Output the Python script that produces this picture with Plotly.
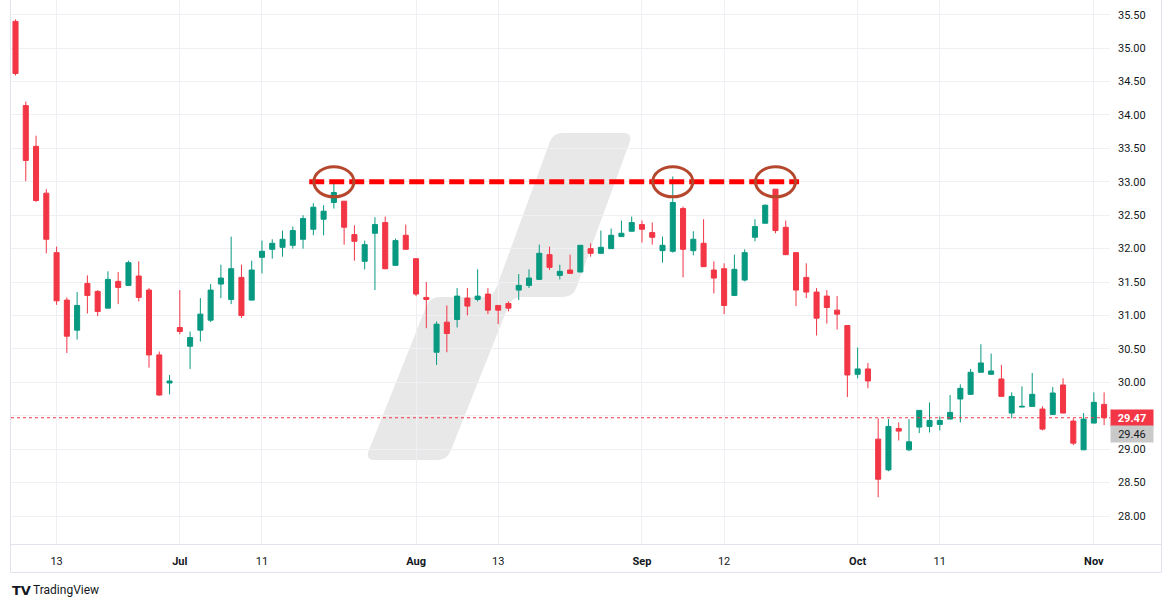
import pandas as pd
import plotly.graph_objects as go

# ---------------- data ----------------
dates = pd.bdate_range("2024-06-07", "2024-11-04").strftime("%Y-%m-%d").tolist()

opens = [35.40, 34.14, 33.53, 32.83, 31.94, 31.23, 30.78, 31.48, 31.36, 31.11,
         31.51, 31.45, 31.59, 31.38, 30.41, 29.99, 30.82, 30.54, 30.78, 30.93,
         31.47, 31.24, 31.57, 31.23, 31.87, 31.99, 32.02, 32.05, 32.14, 32.29,
         32.44, 32.69, 32.71, 32.21, 31.81, 32.23, 32.39, 31.75, 32.20, 31.85,
         31.27, 30.45, 30.90, 30.94, 31.26, 31.24, 31.32, 31.15, 31.18, 31.38,
         31.45, 31.54, 31.91, 31.60, 31.68, 31.65, 32.00, 31.93, 32.00, 32.18,
         32.26, 32.36, 32.24, 31.97, 31.96, 32.60, 31.97, 32.08, 31.68, 31.70,
         31.30, 31.53, 32.17, 32.38, 32.89, 32.32, 31.94, 31.57, 31.35, 31.29,
         31.08, 30.85, 30.12, 30.20, 29.15, 28.69, 29.31, 28.99, 29.33, 29.34,
         29.37, 29.45, 29.75, 29.82, 30.15, 30.12, 30.05, 29.54, 29.63, 29.64,
         29.60, 29.52, 29.96, 29.42, 28.99, 29.39, 29.67]
highs = [35.43, 34.20, 33.69, 32.89, 32.03, 31.27, 31.35, 31.60, 31.38, 31.66,
         31.65, 31.82, 31.81, 31.41, 30.46, 30.11, 31.38, 30.76, 31.26, 31.47,
         31.76, 32.18, 31.76, 31.82, 32.12, 32.14, 32.27, 32.33, 32.50, 32.68,
         32.65, 32.98, 32.71, 32.35, 32.12, 32.47, 32.48, 32.15, 32.36, 31.85,
         31.50, 30.91, 31.15, 31.41, 31.41, 31.69, 31.41, 31.15, 31.21, 31.62,
         31.69, 32.06, 32.03, 31.76, 31.91, 32.05, 32.08, 32.27, 32.30, 32.42,
         32.48, 32.42, 32.39, 32.18, 33.08, 32.63, 32.26, 32.44, 31.81, 31.78,
         31.91, 31.99, 32.44, 32.66, 32.89, 32.42, 31.94, 31.78, 31.41, 31.38,
         31.29, 30.85, 30.52, 30.29, 29.46, 29.45, 29.40, 29.45, 29.58, 29.70,
         29.49, 29.81, 29.97, 30.20, 30.57, 30.43, 30.26, 29.85, 29.94, 30.14,
         29.64, 29.93, 30.06, 29.46, 29.54, 29.85, 29.85]
lows = [34.59, 33.01, 32.70, 31.93, 31.16, 30.44, 30.64, 31.03, 30.99, 31.11,
        31.17, 31.44, 31.21, 30.22, 29.80, 29.82, 30.72, 30.20, 30.61, 30.90,
        31.26, 31.17, 30.96, 31.23, 31.63, 31.85, 31.88, 32.00, 32.00, 32.20,
        32.20, 32.60, 32.06, 31.82, 31.69, 31.38, 31.69, 31.75, 31.99, 31.29,
        30.81, 30.26, 30.45, 30.82, 31.00, 31.21, 31.02, 30.87, 31.06, 31.23,
        31.41, 31.54, 31.68, 31.54, 31.63, 31.65, 31.88, 31.93, 32.00, 32.18,
        32.26, 32.09, 32.06, 31.79, 31.94, 31.57, 31.90, 31.73, 31.33, 31.02,
        31.29, 31.51, 32.11, 32.38, 32.23, 31.91, 31.14, 31.26, 30.70, 30.88,
        30.79, 29.78, 30.06, 29.91, 28.28, 28.67, 29.13, 28.97, 29.24, 29.25,
        29.28, 29.45, 29.40, 29.82, 30.15, 30.11, 29.79, 29.46, 29.63, 29.64,
        29.28, 29.52, 29.54, 29.06, 28.99, 29.39, 29.36]
closes = [34.62, 33.32, 32.72, 32.14, 31.22, 30.69, 31.15, 31.30, 31.06, 31.54,
          31.42, 31.79, 31.27, 30.41, 29.81, 30.02, 30.76, 30.67, 31.02, 31.38,
          31.56, 31.70, 31.00, 31.68, 31.96, 32.08, 32.14, 32.27, 32.45, 32.62,
          32.56, 32.84, 32.32, 32.11, 32.06, 32.36, 31.70, 32.12, 31.99, 31.32,
          31.24, 30.87, 30.73, 31.29, 31.14, 31.29, 31.08, 31.08, 31.11, 31.45,
          31.56, 31.93, 31.72, 31.66, 31.63, 32.05, 31.93, 32.02, 32.20, 32.23,
          32.39, 32.29, 32.17, 32.05, 32.69, 31.99, 32.14, 31.73, 31.56, 31.15,
          31.69, 31.94, 32.33, 32.65, 32.27, 31.91, 31.38, 31.35, 30.96, 31.12,
          31.02, 30.11, 30.20, 30.02, 28.55, 29.34, 29.27, 29.11, 29.58, 29.43,
          29.43, 29.55, 29.91, 30.15, 30.29, 30.17, 29.79, 29.79, 29.64, 29.82,
          29.30, 29.84, 29.54, 29.09, 29.45, 29.70, 29.47]

tick_dates = ["2024-06-13", "2024-07-01", "2024-07-11", "2024-08-01", "2024-08-13",
              "2024-09-02", "2024-09-12", "2024-10-01", "2024-10-11", "2024-11-01"]
tick_labels = ["13", "<b>Jul</b>", "11", "<b>Aug</b>", "13",
               "<b>Sep</b>", "12", "<b>Oct</b>", "11", "<b>Nov</b>"]

price_ticks = [28.0, 28.5, 29.0, 29.5, 30.0, 30.5, 31.0, 31.5, 32.0, 32.5,
               33.0, 33.5, 34.0, 34.5, 35.0, 35.5]

last_price = 29.47
second_price = 29.46
resistance = 33.0
touch_dates = ["2024-07-22", "2024-09-05", "2024-09-19"]

# ---------------- styling / layout constants ----------------
W, H = 1171, 608
ML, MR, MT, MB = 11, 61, 0, 64
PW = W - ML - MR
PH = H - MT - MB
GREEN = "#089981"
RED = "#F23645"
GRID = "#eef0f3"
BORDER = "#e0e3eb"
TXT = "#131722"
FONT = "Roboto, Liberation Sans, Arial, sans-serif"

assert len(dates) == len(opens) == len(highs) == len(lows) == len(closes)


def px2paper(px, py):
    return (px - ML) / PW, (MT + PH - py) / PH


def rounded_path(pts, r):
    n = len(pts)
    out = []
    for i in range(n):
        p0, p1, p2 = pts[i - 1], pts[i], pts[(i + 1) % n]
        d1 = ((p0[0] - p1[0]) ** 2 + (p0[1] - p1[1]) ** 2) ** 0.5
        d2 = ((p2[0] - p1[0]) ** 2 + (p2[1] - p1[1]) ** 2) ** 0.5
        rr = min(r, d1 / 2, d2 / 2)
        a = (p1[0] + (p0[0] - p1[0]) * rr / d1, p1[1] + (p0[1] - p1[1]) * rr / d1)
        b = (p1[0] + (p2[0] - p1[0]) * rr / d2, p1[1] + (p2[1] - p1[1]) * rr / d2)
        A, P, B = px2paper(*a), px2paper(*p1), px2paper(*b)
        out.append(("M" if i == 0 else "L") + f"{A[0]:.5f},{A[1]:.5f} "
                   f"Q{P[0]:.5f},{P[1]:.5f} {B[0]:.5f},{B[1]:.5f}")
    return " ".join(out) + " Z"


fig = go.Figure()
fig.add_trace(go.Candlestick(
    x=dates, open=opens, high=highs, low=lows, close=closes,
    increasing=dict(line=dict(color=GREEN, width=1), fillcolor=GREEN),
    decreasing=dict(line=dict(color=RED, width=1), fillcolor=RED),
    whiskerwidth=0, showlegend=False, hoverinfo="skip",
))

shapes = []
# watermark "/" glyph (decorative, pixel based)
wm = [(365, 460), (430, 297), (493, 297), (553, 133), (633, 133),
      (573, 297), (512, 297), (447, 460)]
shapes.append(dict(type="path", xref="paper", yref="paper", path=rounded_path(wm, 10),
                   fillcolor="#e8e8e8", line=dict(width=0), layer="below"))

# frame lines
def pline(x0, y0, x1, y1):
    a, b = px2paper(x0, y0), px2paper(x1, y1)
    return dict(type="line", xref="paper", yref="paper", x0=a[0], y0=a[1], x1=b[0], y1=b[1],
                line=dict(color=BORDER, width=1), layer="above")

shapes += [pline(10.5, 0, 10.5, 572.5), pline(1161.5, 0, 1161.5, 572.5),
           pline(10.5, 572.5, 1161.5, 572.5), pline(10.5, 544.5, 1161.5, 544.5)]

# last price dotted line
shapes.append(dict(type="line", xref="paper", yref="y", x0=0, x1=1, y0=last_price, y1=last_price,
                   line=dict(color=RED, width=1, dash="dot"), layer="above"))

# resistance dashed line and touch circles
idx = [dates.index(d) for d in touch_dates]
shapes.append(dict(type="line", xref="x", yref="y", x0=idx[0] - 2.4, x1=idx[-1] + 2.3,
                   y0=resistance, y1=resistance,
                   line=dict(color="#FF0000", width=5, dash="15px,5px"), layer="above"))
for i in idx:
    shapes.append(dict(type="circle", xref="x", yref="y", x0=i - 1.95, x1=i + 1.95,
                       y0=resistance - 0.225, y1=resistance + 0.225,
                       line=dict(color="#b5472d", width=3), layer="above"))

annotations = [
    dict(xref="paper", yref="y", x=1, y=last_price, xanchor="left", yanchor="middle",
         text=f"<b>{last_price:.2f}</b>", showarrow=False, bgcolor=RED,
         font=dict(color="white", size=11, family=FONT), width=38, height=12, borderpad=2),
    dict(xref="paper", yref="y", x=1, y=last_price, xanchor="left", yanchor="middle", yshift=-16,
         text=f"{second_price:.2f}", showarrow=False, bgcolor="#c9c9c9",
         font=dict(color=TXT, size=11, family=FONT), width=38, height=12, borderpad=2),
]
lx, ly = px2paper(10, 590)
annotations.append(dict(xref="paper", yref="paper", x=lx, y=ly, xanchor="left", yanchor="middle",
                        text="<b>TV</b>", showarrow=False,
                        font=dict(color=TXT, size=13, family="DejaVu Sans")))
lx2, _ = px2paper(31, 590)
annotations.append(dict(xref="paper", yref="paper", x=lx2, y=ly, xanchor="left", yanchor="middle",
                        text="TradingView", showarrow=False,
                        font=dict(color=TXT, size=12, family=FONT)))

# axis ranges derived from pixel calibration of the reference
y_top = 35.5 + (14.7 - MT) / 66.84
y_bot = 35.5 - (MT + PH - 14.7) / 66.84
step = 10.27
x_left = (ML - 15.5) / step
x_right = (ML + PW - 15.5) / step

fig.update_layout(
    width=W, height=H,
    margin=dict(l=ML, r=MR, t=MT, b=MB),
    paper_bgcolor="white", plot_bgcolor="white",
    shapes=shapes, annotations=annotations,
    font=dict(family=FONT, color=TXT, size=11),
    hovermode=False,
    xaxis=dict(type="category", categoryorder="array", categoryarray=dates,
               range=[x_left, x_right], rangeslider=dict(visible=False),
               tickmode="array", tickvals=tick_dates, ticktext=tick_labels,
               showgrid=True, gridcolor=GRID, gridwidth=1, ticks="",
               ticklabelstandoff=9, tickfont=dict(size=11, color=TXT, family=FONT),
               zeroline=False, showline=False, fixedrange=True),
    yaxis=dict(side="right", range=[y_bot, y_top], tickmode="array", tickvals=price_ticks,
               ticktext=["" if abs(v - 29.5) < 1e-9 else f"{v:.2f}" for v in price_ticks],
               showgrid=True, gridcolor=GRID, gridwidth=1, ticks="",
               ticklabelstandoff=7, tickfont=dict(size=11, color=TXT, family=FONT),
               zeroline=False, showline=False, fixedrange=True),
)

fig.write_html("out.html", config=dict(displayModeBar=False))
